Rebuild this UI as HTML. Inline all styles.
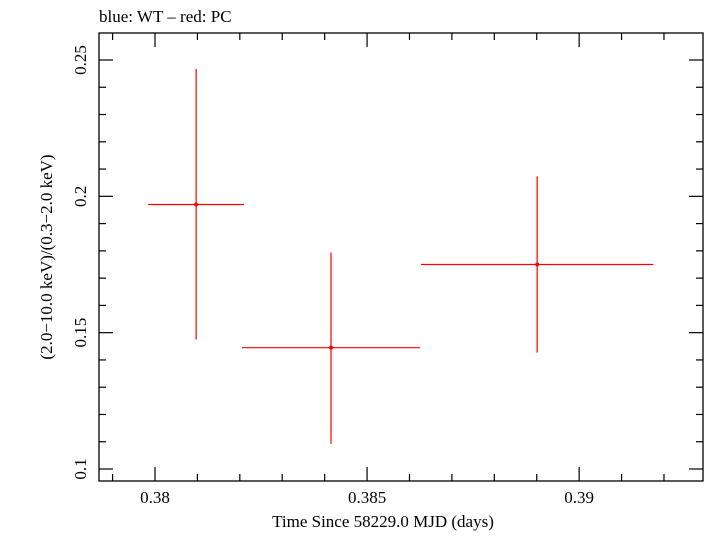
<!DOCTYPE html>
<html><head><meta charset="utf-8"><style>
body{margin:0;background:#fff}
svg text{font-family:"Liberation Serif",serif;fill:#000}
</style></head><body>
<svg width="705" height="532">
<text x="99" y="22" font-size="17">blue: WT – red: PC</text>
<rect x="99" y="33" width="604" height="448" fill="none" stroke="#000" stroke-width="1.3"/>
<g id="axes"></g>
<g id="marks"></g>
<text x="383" y="527" font-size="17" text-anchor="middle">Time Since 58229.0 MJD (days)</text>
<text transform="translate(52,257) rotate(-90)" font-size="17" text-anchor="middle">(2.0−10.0 keV)/(0.3−2.0 keV)</text>
</svg>
<script>
const xs=[0.38097,0.38415,0.38901];
const xerr=[0.00113,0.0021,0.00274];
const ys=[0.197,0.1445,0.175];
const yLo=[0.1475,0.1092,0.1427];
const yHi=[0.2467,0.1794,0.2073];
const xTicks=["0.38","0.385","0.39"];
const yTicks=["0.1","0.15","0.2","0.25"];
const L=99,R=703,T=33,B=481;
const x0=0.37868,x1=0.39292,y0=0.0956,y1=0.2599;
const X=v=>L+(v-x0)/(x1-x0)*(R-L);
const Y=v=>B-(v-y0)/(y1-y0)*(B-T);
const NS="http://www.w3.org/2000/svg";
function mk(t,a,p){const e=document.createElementNS(NS,t);for(const k in a)e.setAttribute(k,a[k]);p.appendChild(e);return e;}
const ax=document.getElementById('axes');
for(let i=0;i<=14;i++){const v=0.379+i*0.001;if(v>x1)break;const px=X(v);const maj=Math.abs((v*1000)%5)<1e-6||Math.abs((v*1000)%5-5)<1e-6;const len=maj?14:7;
const t1=mk('line',{x1:px,x2:px,y1:B,y2:B-len,stroke:'#000','stroke-width':1.2},ax);


const t2=mk('line',{x1:px,x2:px,y1:T,y2:T+len,stroke:'#000','stroke-width':1.2},ax);

}
xTicks.forEach(s=>{const t=mk('text',{x:X(+s),y:503,'font-size':17,'text-anchor':'middle'},ax);t.textContent=s;

});
for(let i=0;i<=16;i++){const v=0.1+i*0.01;if(v>y1)break;const py=Y(v);const maj=i%5==0;const len=maj?14:7;
const t1=mk('line',{x1:L,x2:L+len,y1:py,y2:py,stroke:'#000','stroke-width':1.2},ax);


const t2=mk('line',{x1:R,x2:R-len,y1:py,y2:py,stroke:'#000','stroke-width':1.2},ax);

}
yTicks.forEach(s=>{const py=Y(+s);const t=mk('text',{transform:`translate(86,${py}) rotate(-90)`,'font-size':17,'text-anchor':'middle'},ax);t.textContent=s;

});
const mg=document.getElementById('marks');
xs.forEach((v,i)=>{const g=mk('g',{},mg);


mk('line',{x1:X(v-xerr[i]),x2:X(v+xerr[i]),y1:Y(ys[i]),y2:Y(ys[i]),stroke:'#f00','stroke-width':1.2},g);
mk('line',{x1:X(v),x2:X(v),y1:Y(yLo[i]),y2:Y(yHi[i]),stroke:'#f00','stroke-width':1.2},g);
mk('circle',{cx:X(v),cy:Y(ys[i]),r:2,fill:'#f00'},g);});
</script>
</body></html>
